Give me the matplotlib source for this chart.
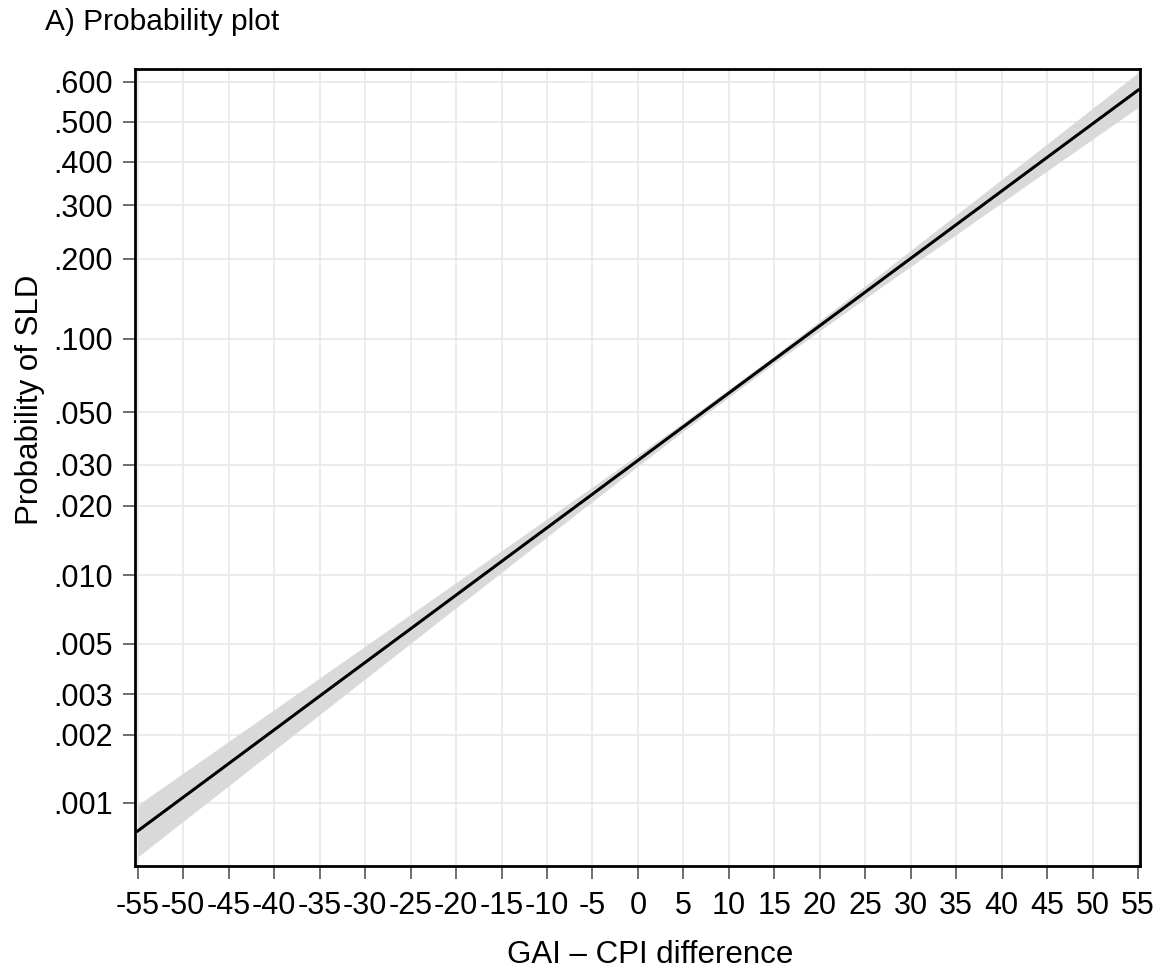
import matplotlib
matplotlib.use("Agg")
import matplotlib.pyplot as plt
from matplotlib.ticker import FixedLocator, FixedFormatter, NullLocator

plt.rcParams['font.family'] = ['Liberation Sans', 'DejaVu Sans']

# Data
gap = [-55, -45, -35, -25, -15, -5, 5, 15, 25, 35, 45, 55]
prob_fit = [0.000753, 0.00149, 0.00295, 0.00582, 0.01146, 0.02243,
            0.0435, 0.0826, 0.1512, 0.2608, 0.4112, 0.580]
prob_lo = [0.000579, 0.001191, 0.002448, 0.005027, 0.01028, 0.02087,
           0.04172, 0.0797, 0.1432, 0.2420, 0.3785, 0.5369]
prob_hi = [0.000981, 0.001866, 0.003544, 0.006732, 0.01276, 0.02409,
           0.04531, 0.0855, 0.1597, 0.2805, 0.4447, 0.6225]

x_ticks = list(range(-55, 56, 5))
y_ticks = [0.001, 0.002, 0.003, 0.005, 0.010, 0.020, 0.030, 0.050,
           0.100, 0.200, 0.300, 0.400, 0.500, 0.600]
y_labels = ['.001', '.002', '.003', '.005', '.010', '.020', '.030', '.050',
            '.100', '.200', '.300', '.400', '.500', '.600']

W, H = 1157, 975
fig = plt.figure(figsize=(W / 100, H / 100), dpi=100)
ax = fig.add_axes([135 / W, 1 - 866 / H, (1140 - 135) / W, (866 - 69) / H])

ax.set_yscale('logit')
ax.fill_between(gap, prob_lo, prob_hi, color='#d9d9d9', lw=0, zorder=2)
ax.plot(gap, prob_fit, color='black', lw=2.2, zorder=3)

ax.set_xlim(-55.3, 55.2)
ax.set_ylim(0.000528, 0.631)

ax.xaxis.set_major_locator(FixedLocator(x_ticks))
ax.set_xticklabels([str(v) for v in x_ticks])
ax.yaxis.set_major_locator(FixedLocator(y_ticks))
ax.yaxis.set_major_formatter(FixedFormatter(y_labels))
ax.yaxis.set_minor_locator(NullLocator())
ax.xaxis.set_minor_locator(NullLocator())

ax.grid(True, color='#e8e8e8', lw=1.2, zorder=0)
ax.set_axisbelow(True)
for s in ax.spines.values():
    s.set_linewidth(2)
    s.set_color('black')

ax.tick_params(axis='both', labelsize=22, color='#555555', length=9, width=1.2,
               direction='out')
ax.tick_params(axis='x', pad=9)
ax.tick_params(axis='y', pad=7)

fig.text(45 / W, 1 - 22 / H, 'A) Probability plot', fontsize=21.5,
         ha='left', va='center')
fig.text(650 / W, 1 - 955 / H, 'GAI \u2013 CPI difference', fontsize=22.5,
         ha='center', va='center')
fig.text(30 / W, 1 - 400 / H, 'Probability of SLD', fontsize=22.5,
         ha='center', va='center', rotation=90)

fig.savefig('out.png', dpi=100)
